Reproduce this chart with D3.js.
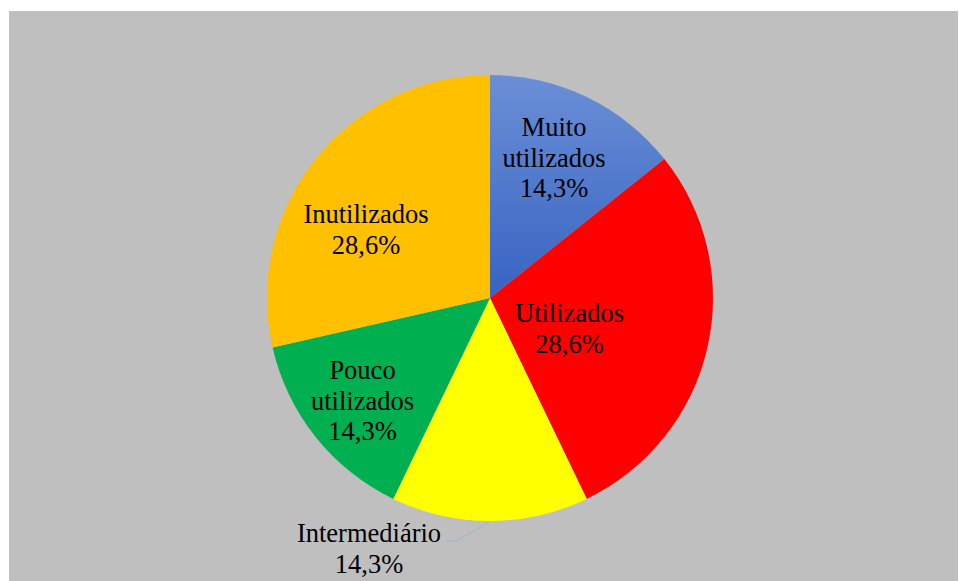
<!DOCTYPE html>
<html><head><meta charset="utf-8">
<script src="https://cdn.jsdelivr.net/npm/d3@7"></script>
<style>html,body{margin:0;padding:0;background:#fff;}</style>
</head><body>
<svg id="c" width="959" height="581"></svg>
<script>
const categories = ["Muito utilizados", "Utilizados", "Intermediário", "Pouco utilizados", "Inutilizados"];
const values = [1, 2, 1, 1, 2];
const percentLabels = ["14,3%", "28,6%", "14,3%", "14,3%", "28,6%"];
const labelLines = [["Muito", "utilizados"], ["Utilizados"], ["Intermediário"], ["Pouco", "utilizados"], ["Inutilizados"]];
const colors = ["url(#blueGrad)", "#FF0000", "#FFFF00", "#00B050", "#FFC000"];

// label layout: offset of first baseline from pie centre (px)
const labelPos = [[64, -162], [79.5, 24], [-121, 244], [-127.5, 81], [-124, -75]];

const svg = d3.select("#c");
const defs = svg.append("defs");
const cx = 490, cy = 298, r = 223;
const g1 = defs.append("linearGradient").attr("id", "blueGrad")
  .attr("gradientUnits", "userSpaceOnUse").attr("x1", 0).attr("y1", -r).attr("x2", 0).attr("y2", 0);
g1.append("stop").attr("offset", "0%").attr("stop-color", "#6B8FD7");
g1.append("stop").attr("offset", "100%").attr("stop-color", "#3763C2");

svg.append("rect").attr("x", 9).attr("y", 11).attr("width", 949).attr("height", 570).attr("fill", "#BFBFBF");

const g = svg.append("g").attr("transform", `translate(${cx},${cy})`);
const pie = d3.pie().sort(null).value(d => d)(values);
const arc = d3.arc().innerRadius(0).outerRadius(r);

g.selectAll("path.slice").data(pie).join("path")
  .attr("class", "slice")
  .attr("d", arc)
  .attr("fill", (d, i) => colors[i]);

// leader line for Intermediário
g.append("path")
  .attr("d", d3.line()([[-44, 243], [-34, 243], [-1, 224]]))
  .attr("fill", "none").attr("stroke", "#A7B7CA").attr("stroke-width", 1.3);

const lh = 30.5;
categories.forEach((c, i) => {
  const lines = labelLines[i].concat([percentLabels[i]]);
  const [lx, ly] = labelPos[i];
  const t = g.append("text")
    .style("font-family", "\"Liberation Serif\", \"Times New Roman\", serif")
    .style("font-size", "26.5px").attr("fill", "#000").attr("text-anchor", "middle");
  lines.forEach((s, k) => {
    t.append("tspan").attr("x", lx).attr("y", ly + k * lh).text(s);
  });
});
</script>
</body></html>
